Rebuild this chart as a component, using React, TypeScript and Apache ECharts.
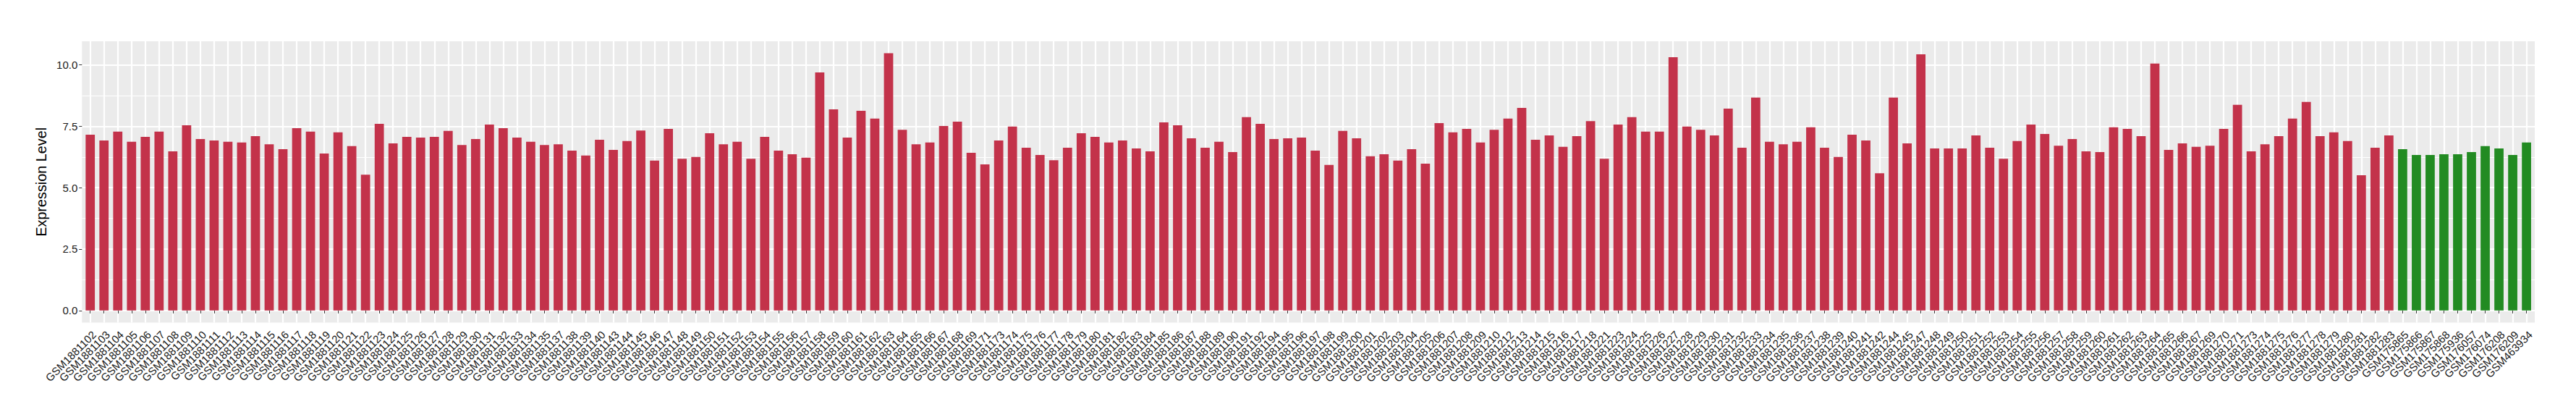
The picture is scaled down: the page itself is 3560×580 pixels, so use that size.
import React, { useEffect, useRef } from 'react';
import * as echarts from 'echarts';

const redSamples = [
  'GSM1881102','GSM1881103','GSM1881104','GSM1881105','GSM1881106','GSM1881107','GSM1881108','GSM1881109','GSM1881110','GSM1881111',
  'GSM1881112','GSM1881113','GSM1881114','GSM1881115','GSM1881116','GSM1881117','GSM1881118','GSM1881119','GSM1881120','GSM1881121',
  'GSM1881122','GSM1881123','GSM1881124','GSM1881125','GSM1881126','GSM1881127','GSM1881128','GSM1881129','GSM1881130','GSM1881131',
  'GSM1881132','GSM1881133','GSM1881134','GSM1881135','GSM1881137','GSM1881138','GSM1881139','GSM1881140','GSM1881143','GSM1881144',
  'GSM1881145','GSM1881146','GSM1881147','GSM1881148','GSM1881149','GSM1881150','GSM1881151','GSM1881152','GSM1881153','GSM1881154',
  'GSM1881155','GSM1881156','GSM1881157','GSM1881158','GSM1881159','GSM1881160','GSM1881161','GSM1881162','GSM1881163','GSM1881164',
  'GSM1881165','GSM1881166','GSM1881167','GSM1881168','GSM1881169','GSM1881171','GSM1881173','GSM1881174','GSM1881175','GSM1881176',
  'GSM1881177','GSM1881178','GSM1881179','GSM1881180','GSM1881181','GSM1881182','GSM1881183','GSM1881184','GSM1881185','GSM1881186',
  'GSM1881187','GSM1881188','GSM1881189','GSM1881190','GSM1881191','GSM1881192','GSM1881194','GSM1881195','GSM1881196','GSM1881197',
  'GSM1881198','GSM1881199','GSM1881200','GSM1881201','GSM1881202','GSM1881203','GSM1881204','GSM1881205','GSM1881206','GSM1881207',
  'GSM1881208','GSM1881209','GSM1881210','GSM1881212','GSM1881213','GSM1881214','GSM1881215','GSM1881216','GSM1881217','GSM1881218',
  'GSM1881221','GSM1881223','GSM1881224','GSM1881225','GSM1881226','GSM1881227','GSM1881228','GSM1881229','GSM1881230','GSM1881231',
  'GSM1881232','GSM1881233','GSM1881234','GSM1881235','GSM1881236','GSM1881237','GSM1881238','GSM1881239','GSM1881240','GSM1881241',
  'GSM1881242','GSM1881244','GSM1881245','GSM1881247','GSM1881248','GSM1881249','GSM1881250','GSM1881251','GSM1881252','GSM1881253',
  'GSM1881254','GSM1881255','GSM1881256','GSM1881257','GSM1881258','GSM1881259','GSM1881260','GSM1881261','GSM1881262','GSM1881263',
  'GSM1881264','GSM1881265','GSM1881266','GSM1881267','GSM1881269','GSM1881270','GSM1881271','GSM1881273','GSM1881274','GSM1881275',
  'GSM1881276','GSM1881277','GSM1881278','GSM1881279','GSM1881280','GSM1881281','GSM1881282','GSM1881283'
];

const redValues = [
  7.16, 6.92, 7.28, 6.87, 7.07, 7.28, 6.48, 7.54, 6.98, 6.92,
  6.87, 6.84, 7.10, 6.77, 6.57, 7.42, 7.28, 6.39, 7.25, 6.69,
  5.53, 7.60, 6.80, 7.07, 7.04, 7.07, 7.31, 6.74, 6.98, 7.57,
  7.42, 7.04, 6.87, 6.74, 6.77, 6.51, 6.31, 6.95, 6.54, 6.90,
  7.33, 6.10, 7.39, 6.18, 6.25, 7.22, 6.77, 6.87, 6.18, 7.07,
  6.51, 6.36, 6.22, 9.69, 8.19, 7.04, 8.13, 7.81, 10.47, 7.36,
  6.77, 6.84, 7.51, 7.69, 6.42, 5.95, 6.92, 7.49, 6.63, 6.33,
  6.12, 6.63, 7.22, 7.07, 6.84, 6.92, 6.60, 6.48, 7.66, 7.54,
  7.01, 6.63, 6.87, 6.45, 7.87, 7.60, 6.98, 7.01, 7.04, 6.51,
  5.93, 7.31, 7.01, 6.28, 6.36, 6.10, 6.57, 5.98, 7.63, 7.25,
  7.39, 6.84, 7.36, 7.81, 8.25, 6.95, 7.13, 6.66, 7.10, 7.71,
  6.18, 7.57, 7.87, 7.28, 7.28, 10.31, 7.49, 7.36, 7.13, 8.22,
  6.63, 8.67, 6.87, 6.77, 6.87, 7.46, 6.63, 6.25, 7.16, 6.92,
  5.59, 8.67, 6.80, 10.43, 6.60, 6.60, 6.60, 7.13, 6.63, 6.18,
  6.90, 7.57, 7.19, 6.71, 6.98, 6.48, 6.45, 7.46, 7.39, 7.10,
  10.05, 6.54, 6.80, 6.66, 6.71, 7.39, 8.37, 6.48, 6.77, 7.10,
  7.81, 8.49, 7.10, 7.25, 6.90, 5.51, 6.63, 7.13
];

const greenSamples = [
  'GSM175865','GSM175866','GSM175867','GSM175868','GSM175936',
  'GSM176057','GSM176074','GSM176208','GSM176209','GSM463934'
];

const greenValues = [6.57, 6.33, 6.33, 6.36, 6.36, 6.45, 6.69, 6.60, 6.33, 6.84];

const yMajorTicks = [0, 2.5, 5, 7.5, 10];
const yMinorTicks = [1.25, 3.75, 6.25, 8.75];
const yTitle = 'Expression Level';

const RED = '#C3324A';
const GREEN = '#228B22';
const FONT = 'Liberation Sans, Arial, Helvetica, sans-serif';

export default function App() {
  const ref = useRef<HTMLDivElement>(null);

  useEffect(() => {
    document.body.style.margin = '0';
    const el = ref.current!;
    const chart = echarts.init(el, null, { renderer: 'svg' });

    const categories = [...redSamples, ...greenSamples];
    const redData = [...redValues, ...greenSamples.map(() => null)];
    const greenData = [...redSamples.map(() => null), ...greenValues];
    const N = categories.length;

    const panelLeft = 113.3;
    const panelRight = 3503;
    const panelTop = 57;
    const panelHeight = 388.6;
    const panelW = panelRight - panelLeft;
    const band = panelW / (N + 0.2);
    const inset = 0.1 * band;
    const yMin = -0.495;
    const yMax = 10.96;

    chart.setOption({
      animation: false,
      backgroundColor: '#ffffff',
      textStyle: { fontFamily: FONT },
      grid: [
        {
          left: panelLeft, top: panelTop, width: panelW, height: panelHeight,
          show: true, backgroundColor: '#EBEBEB', borderWidth: 0, containLabel: false
        },
        {
          left: panelLeft + inset, top: panelTop, width: panelW - 2 * inset, height: panelHeight,
          show: false, containLabel: false
        }
      ],
      xAxis: [
        { gridIndex: 0, type: 'category', data: [''], show: false },
        {
          gridIndex: 1,
          type: 'category',
          data: categories,
          boundaryGap: true,
          axisLine: { show: false },
          axisTick: { show: true, alignWithLabel: true, length: 4, lineStyle: { color: '#333333', width: 1 } },
          axisLabel: {
            interval: 0, rotate: 45, fontSize: 15, color: '#1a1a1a', margin: 8.5,
            fontFamily: FONT, verticalAlign: 'top', align: 'right'
          },
          splitLine: { show: true, alignWithLabel: true, lineStyle: { color: '#ffffff', width: 2.2 } }
        }
      ],
      yAxis: [
        {
          gridIndex: 0,
          type: 'value',
          min: yMin, max: yMax,
          name: yTitle,
          nameLocation: 'middle',
          nameGap: 40,
          nameTextStyle: { fontSize: 19.8, color: '#000000', fontFamily: FONT },
          axisLine: { show: false },
          axisTick: { show: true, length: 4, customValues: yMajorTicks, lineStyle: { color: '#333333', width: 1 } },
          axisLabel: {
            customValues: yMajorTicks, margin: 6, fontSize: 15, color: '#1a1a1a', fontFamily: FONT,
            formatter: (v: number) => v.toFixed(1)
          },
          splitLine: { show: true, lineStyle: { color: '#ffffff', width: 2.2 } }
        },
        {
          gridIndex: 0,
          type: 'value',
          min: yMin, max: yMax,
          axisLine: { show: false },
          axisTick: { show: false, customValues: yMinorTicks },
          axisLabel: { show: false, customValues: yMinorTicks },
          splitLine: { show: true, lineStyle: { color: '#ffffff', width: 1.1 } }
        },
        {
          gridIndex: 1,
          type: 'value',
          min: yMin, max: yMax,
          show: false,
          splitLine: { show: false }
        }
      ],
      series: [
        {
          type: 'bar', xAxisIndex: 1, yAxisIndex: 2, data: redData,
          barWidth: '67%', barGap: '-100%', itemStyle: { color: RED }, z: 3
        },
        {
          type: 'bar', xAxisIndex: 1, yAxisIndex: 2, data: greenData,
          barWidth: '67%', barGap: '-100%', itemStyle: { color: GREEN }, z: 3
        }
      ]
    });

    return () => chart.dispose();
  }, []);

  return <div ref={ref} style={{ width: 3560, height: 580 }} />;
}
